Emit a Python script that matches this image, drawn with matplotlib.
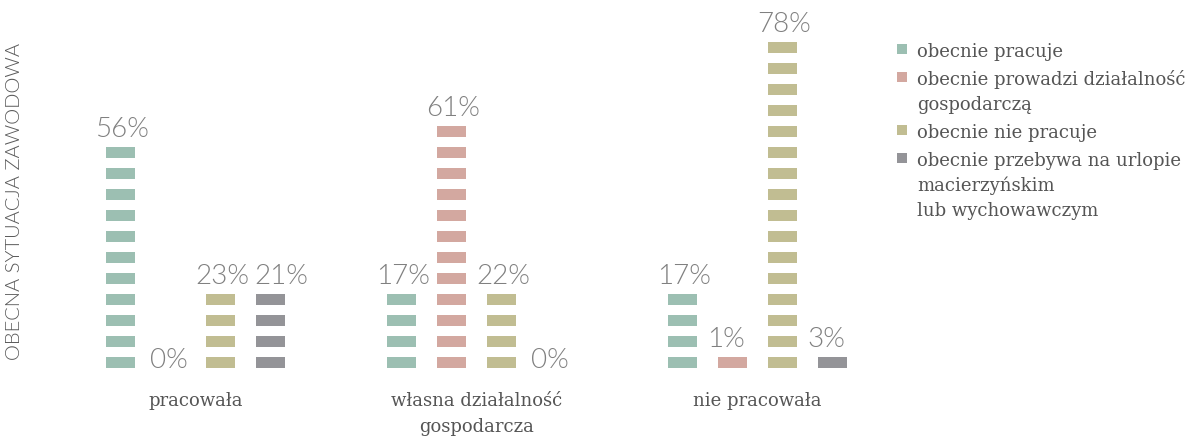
import matplotlib.pyplot as plt
import numpy as np

categories = ['pracowała', 'własna działalność\ngospodarcza', 'nie pracowała']
series = ['obecnie pracuje',
          'obecnie prowadzi działalność\ngospodarczą',
          'obecnie nie pracuje',
          'obecnie przebywa na urlopie\nmacierzyńskim\nlub wychowawczym']
# percent per series, one value per category
values = [[56, 17, 17],
          [0, 61, 1],
          [23, 22, 78],
          [21, 0, 3]]
# number of dash blocks drawn in each bar
blocks = [[11, 4, 4],
          [0, 12, 1],
          [4, 4, 16],
          [4, 0, 1]]
colors = ['#9cbfb2', '#d3a8a0', '#c1bd92', '#949498']
ylabel = 'OBECNA SYTUACJA ZAWODOWA'

W, H = 1190, 436
fig = plt.figure(figsize=(W / 100, H / 100), dpi=100)
ax = fig.add_axes([0, 0, 1, 1])
ax.axis('off')

# 1 x unit = 50 px, 1 y unit = 21 px (block pitch)
x0_px, y0_px = 120.5, 68.5
ax.set_xlim(-x0_px / 50, (W - x0_px) / 50)
ax.set_ylim(-y0_px / 21, (H - y0_px) / 21)

group_step = 5.62
bar_w = 0.58
pct_font = dict(family=['Lato', 'DejaVu Sans'], fontweight=300,
                fontsize=20, color='#808080')
txt_font = dict(family=['DejaVu Serif'], fontsize=13, color='#555555')
# labels shifted right from the default spot (series, category): px
nudge = {(3, 0): 9, (1, 0): 5, (3, 1): 5}

for j, (vals, nb, col) in enumerate(zip(values, blocks, colors)):
    for i in range(len(categories)):
        x = i * group_step + j
        n = nb[i]
        if n:
            ax.bar([x] * n, 0.5, bottom=np.arange(n), width=bar_w,
                   color=col, linewidth=0)
        tx = x - bar_w / 2 - (11 - nudge.get((j, i), 0)) / 50
        ax.text(tx, n, f'{vals[i]}%', ha='left', va='baseline', **pct_font)

for i, cat in enumerate(categories):
    for k, line in enumerate(cat.split('\n')):
        ax.text(i * group_step + 1.5, -1.85 - k * 1.2, line, ha='center',
                va='baseline', **txt_font)

# legend
ly = 57
for name, col in zip(series, colors):
    ax.add_patch(plt.Rectangle((897 / W, 1 - (ly - 3) / H), 10 / W, 10 / H,
                               transform=fig.transFigure, color=col,
                               linewidth=0))
    for line in name.split('\n'):
        fig.text(917 / W, 1 - ly / H, line, ha='left', va='baseline',
                 **txt_font)
        ly += 25
    ly += 3

fig.text(15 / W, 1 - 201 / H, ylabel, rotation=90, ha='center', va='center',
         family=['Lato', 'DejaVu Sans'], fontweight=300, fontsize=14.5,
         color='#5a5a5a')

fig.savefig('out.png', dpi=100)
